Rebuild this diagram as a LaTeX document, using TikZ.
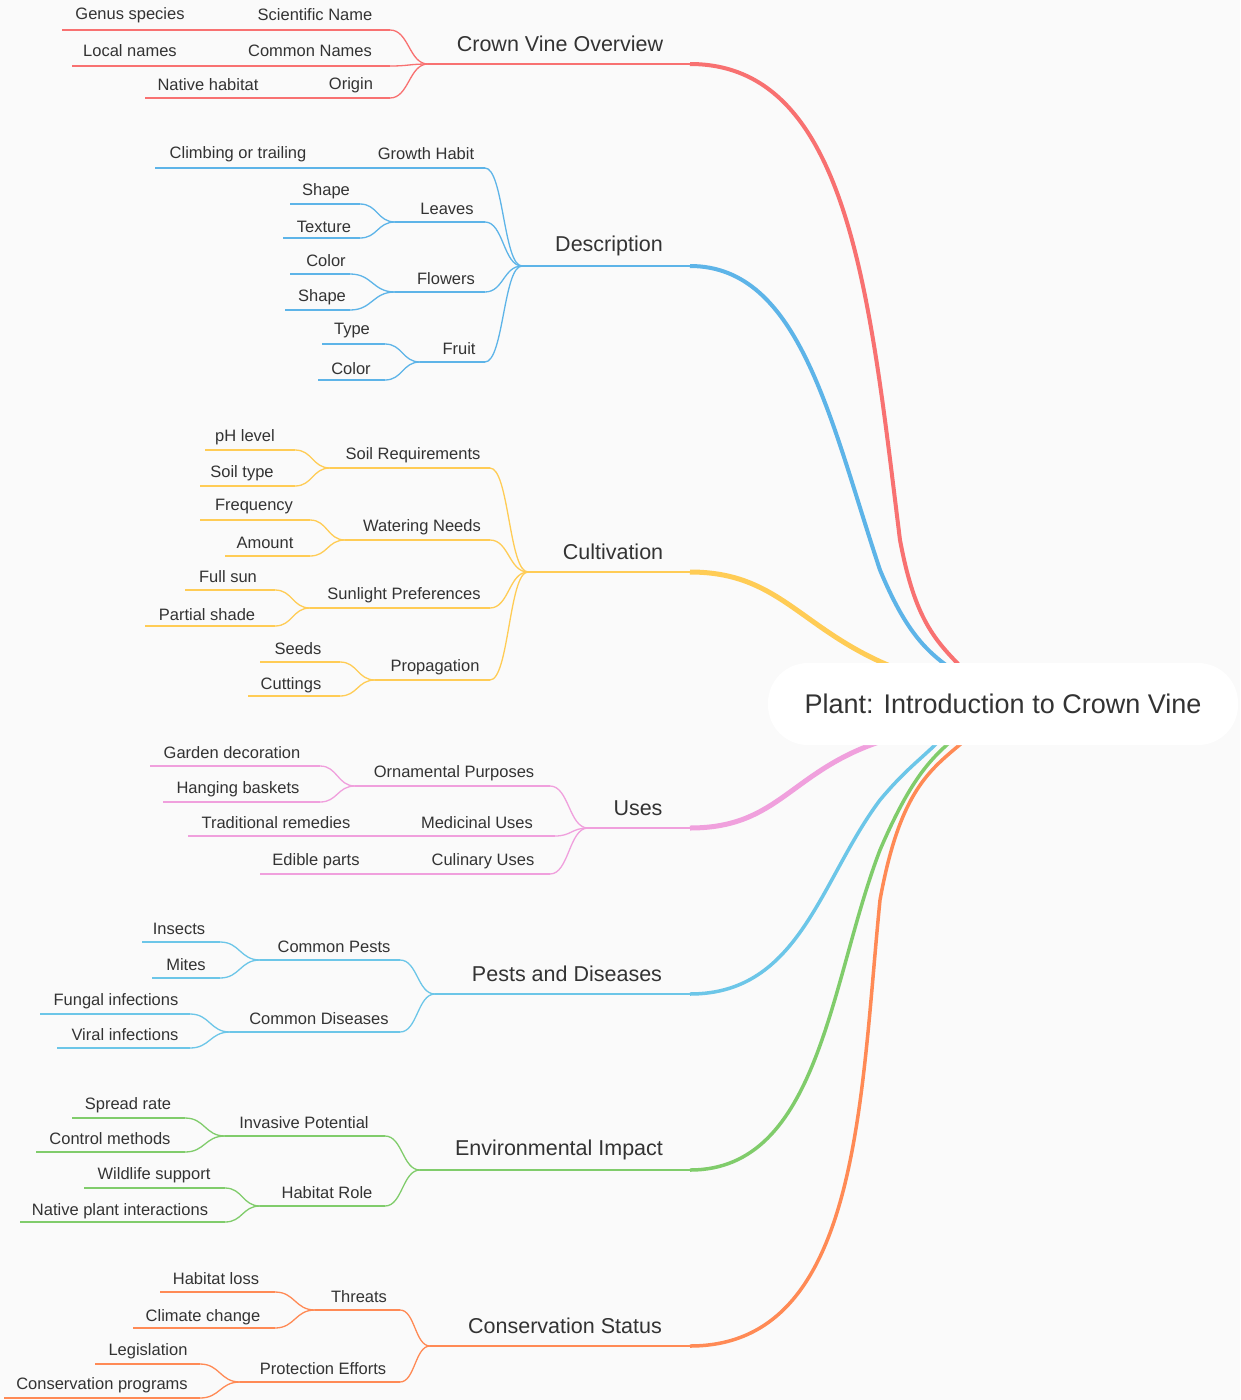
\documentclass[tikz,border=0pt]{standalone}
\usepackage{fontspec}
\setmainfont{Liberation Sans}
\definecolor{cR}{HTML}{F87171}\definecolor{cB}{HTML}{5DB4E8}\definecolor{cY}{HTML}{FFCC55}
\definecolor{cP}{HTML}{F0A0DD}\definecolor{cC}{HTML}{6CC6E8}\definecolor{cG}{HTML}{80CC6B}
\definecolor{cO}{HTML}{FF8A55}\definecolor{tx}{HTML}{333333}
\newcommand{\lf}[7]{\node[font=\fontsize{16.5}{18}\selectfont,text=tx] at (#2,#3+1) {#7};
 \draw[#1,line width=1.3pt] (#4,#6) -- (#5,#6);}
\newcommand{\lo}[7]{\node[font=\fontsize{21.5}{24}\selectfont,text=tx] at (#2,#3+1) {#7};
 \draw[#1,line width=2pt] (#4,#6) -- (#5,#6);}
\newcommand{\cn}[5]{\draw[#1,line width=1.3pt] (#2,#3) .. controls ($(#2,#3)!0.5!(#4,#3)$) and ($(#2,#5)!0.5!(#4,#5)$) .. (#4,#5);}
\usetikzlibrary{calc}
\begin{document}
\begin{tikzpicture}[x=1pt,y=-1pt]
\fill[white!98!black] (0,0) rectangle (1240,1400);
\useasboundingbox (0,0) rectangle (1240,1400);
% top-level connectors
\draw[cR,line width=4pt] (690,64) .. controls (850,64) and (870,300) .. (900,540) .. controls (915,620) and (935,640) .. (962,668);
\draw[cB,line width=4pt] (690,266) .. controls (800,266) and (830,420) .. (880,570) .. controls (905,630) and (925,650) .. (950,668);
\draw[cY,line width=5pt] (690,572) .. controls (780,572) and (800,630) .. (895,668);
\draw[cP,line width=5pt] (690,828) .. controls (780,828) and (790,770) .. (885,740);
\draw[cC,line width=3.5pt] (690,994) .. controls (800,994) and (820,880) .. (880,800) .. controls (905,770) and (920,760) .. (938,742);
\draw[cG,line width=3.5pt] (690,1170) .. controls (820,1170) and (830,980) .. (880,850) .. controls (910,780) and (930,760) .. (950,742);
\draw[cO,line width=3.5pt] (690,1346) .. controls (860,1346) and (860,1100) .. (880,900) .. controls (900,790) and (930,770) .. (963,742);
\node[draw=none,fill=white,rounded corners=40pt,minimum width=470pt,minimum height=82pt,font=\fontsize{27}{30}\selectfont,text=tx] (root) at (1003,704) {Plant: Introduction to Crown Vine};
% Overview
\lo{cR}{560}{43}{428}{690}{64}{Crown Vine Overview}
\lf{cR}{315}{14}{245}{390}{30}{Scientific Name}\lf{cR}{130}{14}{62}{245}{30}{Genus species}
\lf{cR}{310}{50}{245}{390}{66}{Common Names}\lf{cR}{130}{50}{72}{245}{66}{Local names}
\lf{cR}{351}{84}{300}{390}{98}{Origin}\lf{cR}{208}{84}{145}{300}{98}{Native habitat}
\cn{cR}{390}{30}{428}{64}\cn{cR}{390}{66}{428}{64}\cn{cR}{390}{98}{428}{64}
% Description
\lo{cB}{609}{245}{522}{690}{266}{Description}
\lf{cB}{426}{153}{370}{485}{168}{Growth Habit}\lf{cB}{238}{153}{155}{370}{168}{Climbing or trailing}
\lf{cB}{447}{208}{395}{485}{222}{Leaves}\lf{cB}{326}{190}{290}{360}{204}{Shape}\lf{cB}{324}{226}{283}{360}{238}{Texture}
\lf{cB}{446}{278}{395}{485}{292}{Flowers}\lf{cB}{326}{260}{290}{350}{274}{Color}\lf{cB}{322}{296}{285}{350}{310}{Shape}
\lf{cB}{459}{348}{420}{485}{362}{Fruit}\lf{cB}{352}{330}{322}{385}{344}{Type}\lf{cB}{351}{368}{318}{385}{380}{Color}
\cn{cB}{485}{168}{522}{266}\cn{cB}{485}{222}{522}{266}\cn{cB}{485}{292}{522}{266}\cn{cB}{485}{362}{522}{266}
\cn{cB}{360}{204}{395}{222}\cn{cB}{360}{238}{395}{222}\cn{cB}{350}{274}{395}{292}\cn{cB}{350}{310}{395}{292}
\cn{cB}{385}{344}{420}{362}\cn{cB}{385}{380}{420}{362}
% Cultivation
\lo{cY}{613}{551}{528}{690}{572}{Cultivation}
\lf{cY}{413}{454}{330}{490}{468}{Soil Requirements}\lf{cY}{245}{436}{205}{295}{450}{pH level}\lf{cY}{242}{472}{200}{295}{486}{Soil type}
\lf{cY}{422}{526}{345}{490}{540}{Watering Needs}\lf{cY}{254}{506}{200}{310}{520}{Frequency}\lf{cY}{265}{542}{225}{310}{556}{Amount}
\lf{cY}{404}{594}{310}{490}{608}{Sunlight Preferences}\lf{cY}{228}{576}{185}{275}{590}{Full sun}\lf{cY}{207}{614}{145}{275}{626}{Partial shade}
\lf{cY}{435}{666}{375}{490}{680}{Propagation}\lf{cY}{298}{648}{260}{340}{662}{Seeds}\lf{cY}{291}{684}{248}{340}{696}{Cuttings}
\cn{cY}{490}{468}{528}{572}\cn{cY}{490}{540}{528}{572}\cn{cY}{490}{608}{528}{572}\cn{cY}{490}{680}{528}{572}
\cn{cY}{295}{450}{330}{468}\cn{cY}{295}{486}{330}{468}\cn{cY}{310}{520}{345}{540}\cn{cY}{310}{556}{345}{540}
\cn{cY}{275}{590}{310}{608}\cn{cY}{275}{626}{310}{608}\cn{cY}{340}{662}{375}{680}\cn{cY}{340}{696}{375}{680}
% Uses
\lo{cP}{638}{807}{588}{690}{828}{Uses}
\lf{cP}{454}{772}{355}{550}{786}{Ornamental Purposes}\lf{cP}{232}{752}{150}{320}{766}{Garden decoration}\lf{cP}{238}{788}{163}{320}{802}{Hanging baskets}
\lf{cP}{477}{822}{380}{555}{836}{Medicinal Uses}\lf{cP}{276}{822}{188}{380}{836}{Traditional remedies}
\lf{cP}{483}{860}{380}{550}{874}{Culinary Uses}\lf{cP}{316}{860}{260}{380}{874}{Edible parts}
\cn{cP}{550}{786}{588}{828}\cn{cP}{555}{836}{588}{828}\cn{cP}{550}{874}{588}{828}
\cn{cP}{320}{766}{355}{786}\cn{cP}{320}{802}{355}{786}
% Pests
\lo{cC}{567}{973}{435}{690}{994}{Pests and Diseases}
\lf{cC}{334}{946}{260}{400}{960}{Common Pests}\lf{cC}{179}{928}{142}{220}{942}{Insects}\lf{cC}{186}{964}{152}{220}{978}{Mites}
\lf{cC}{319}{1018}{230}{400}{1032}{Common Diseases}\lf{cC}{116}{1000}{40}{190}{1014}{Fungal infections}\lf{cC}{125}{1034}{57}{190}{1048}{Viral infections}
\cn{cC}{400}{960}{435}{994}\cn{cC}{400}{1032}{435}{994}
\cn{cC}{220}{942}{260}{960}\cn{cC}{220}{978}{260}{960}\cn{cC}{190}{1014}{230}{1032}\cn{cC}{190}{1048}{230}{1032}
% Environmental
\lo{cG}{559}{1149}{420}{690}{1170}{Environmental Impact}
\lf{cG}{304}{1122}{225}{385}{1136}{Invasive Potential}\lf{cG}{128}{1104}{72}{185}{1118}{Spread rate}\lf{cG}{110}{1138}{36}{185}{1152}{Control methods}
\lf{cG}{327}{1192}{260}{385}{1206}{Habitat Role}\lf{cG}{154}{1174}{84}{225}{1188}{Wildlife support}\lf{cG}{120}{1210}{20}{225}{1222}{Native plant interactions}
\cn{cG}{385}{1136}{420}{1170}\cn{cG}{385}{1206}{420}{1170}
\cn{cG}{185}{1118}{225}{1136}\cn{cG}{185}{1152}{225}{1136}\cn{cG}{225}{1188}{260}{1206}\cn{cG}{225}{1222}{260}{1206}
% Conservation
\lo{cO}{565}{1325}{430}{690}{1346}{Conservation Status}
\lf{cO}{359}{1296}{315}{400}{1310}{Threats}\lf{cO}{216}{1278}{160}{275}{1292}{Habitat loss}\lf{cO}{203}{1316}{133}{275}{1328}{Climate change}
\lf{cO}{323}{1368}{240}{400}{1382}{Protection Efforts}\lf{cO}{148}{1350}{95}{200}{1364}{Legislation}\lf{cO}{102}{1384}{4}{200}{1398}{Conservation programs}
\cn{cO}{400}{1310}{430}{1346}\cn{cO}{400}{1382}{430}{1346}
\cn{cO}{275}{1292}{315}{1310}\cn{cO}{275}{1328}{315}{1310}\cn{cO}{200}{1364}{240}{1382}\cn{cO}{200}{1398}{240}{1382}
\end{tikzpicture}
\end{document}
